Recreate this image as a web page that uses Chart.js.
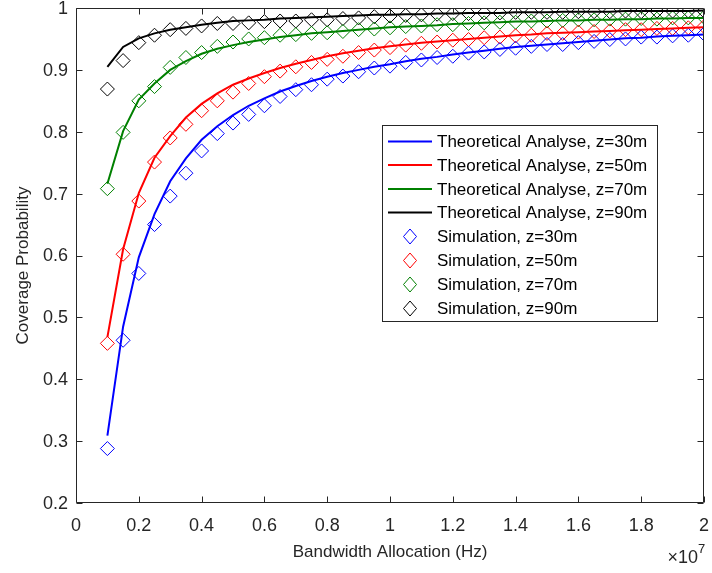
<!DOCTYPE html>
<html>
<head>
<meta charset="utf-8">
<script src="https://cdn.jsdelivr.net/npm/chart.js@4.4.1/dist/chart.umd.min.js"></script>
<style>
  html, body { margin: 0; padding: 0; background: #ffffff; }
  #wrap { position: relative; width: 712px; height: 573px; }
</style>
</head>
<body>
<div id="wrap"><canvas id="c" width="712" height="573"></canvas></div>
<script>
// ---- Data (bandwidth in Hz) ----
const bandwidthHz = [
  1.0e6, 1.5e6, 2.0e6, 2.5e6, 3.0e6, 3.5e6, 4.0e6, 4.5e6, 5.0e6, 5.5e6,
  6.0e6, 6.5e6, 7.0e6, 7.5e6, 8.0e6, 8.5e6, 9.0e6, 9.5e6, 1.0e7, 1.05e7,
  1.1e7, 1.15e7, 1.2e7, 1.25e7, 1.3e7, 1.35e7, 1.4e7, 1.45e7, 1.5e7, 1.55e7,
  1.6e7, 1.65e7, 1.7e7, 1.75e7, 1.8e7, 1.85e7, 1.9e7, 1.95e7, 2.0e7
];

const theory30 = [.309,.485,.597,.667,.720,.757,.787,.809,.827,.842,.854,.865,.874,.882,.889,.895,.900,.905,.909,.914,.918,.921,.925,.928,.931,.934,.937,.939,.941,.943,.945,.947,.949,.951,.952,.954,.955,.956,.957];
const theory50 = [.468,.610,.701,.758,.793,.823,.845,.862,.876,.886,.895,.903,.910,.916,.922,.927,.931,.935,.938,.941,.944,.946,.948,.950,.952,.954,.956,.957,.959,.960,.961,.962,.963,.964,.965,.966,.967,.968,.969];
const theory70 = [.716,.801,.852,.878,.900,.914,.926,.934,.940,.945,.949,.953,.956,.959,.961,.963,.965,.967,.969,.970,.971,.972,.974,.975,.976,.977,.978,.978,.979,.980,.980,.981,.981,.982,.982,.983,.983,.984,.984];
const theory90 = [.905,.937,.951,.959,.965,.969,.973,.976,.979,.980,.981,.983,.984,.985,.986,.987,.988,.989,.989,.990,.990,.991,.991,.992,.992,.992,.993,.993,.993,.994,.994,.994,.994,.995,.995,.995,.995,.995,.996];

const sim30 = [.288,.463,.571,.650,.696,.733,.769,.797,.814,.828,.842,.857,.868,.876,.885,.890,.897,.903,.906,.912,.916,.920,.922,.927,.929,.933,.935,.938,.941,.941,.944,.946,.949,.950,.953,.953,.955,.956,.958];
const sim50 = [.458,.602,.688,.751,.790,.812,.834,.850,.864,.878,.889,.898,.905,.912,.917,.922,.928,.932,.936,.940,.943,.945,.948,.949,.952,.953,.955,.956,.959,.959,.961,.962,.963,.965,.965,.967,.967,.968,.970];
const sim70 = [.708,.799,.850,.873,.904,.920,.928,.938,.945,.950,.952,.956,.957,.959,.960,.962,.965,.966,.968,.970,.971,.973,.973,.975,.976,.977,.977,.979,.979,.980,.981,.981,.982,.982,.983,.982,.984,.984,.985];
const sim90 = [.869,.915,.944,.956,.965,.967,.971,.975,.975,.976,.978,.979,.979,.981,.981,.983,.984,.986,.987,.988,.989,.990,.991,.991,.992,.992,.993,.993,.993,.993,.994,.994,.994,.995,.994,.995,.995,.995,.995];

const seriesLabels = [
  'Theoretical Analyse, z=30m','Theoretical Analyse, z=50m','Theoretical Analyse, z=70m','Theoretical Analyse, z=90m',
  'Simulation, z=30m','Simulation, z=50m','Simulation, z=70m','Simulation, z=90m'
];
const xTickLabels = ['0','0.2','0.4','0.6','0.8','1','1.2','1.4','1.6','1.8','2'];
const yTickLabels = ['0.2','0.3','0.4','0.5','0.6','0.7','0.8','0.9','1'];
const xTitle = 'Bandwidth Allocation (Hz)';
const yTitle = 'Coverage Probability';

const colors = ['#0000ff', '#ff0000', '#008000', '#000000'];
const AXIS = '#262626';
const FONT = '"Liberation Sans", Arial, Helvetica, sans-serif';

function pts(ys) { return ys.map((y, i) => ({ x: bandwidthHz[i], y: y })); }

const theories = [theory30, theory50, theory70, theory90];
const sims = [sim30, sim50, sim70, sim90];
const datasets = [];
theories.forEach((t, i) => datasets.push({
  label: seriesLabels[i], data: pts(t), borderColor: colors[i], backgroundColor: colors[i],
  borderWidth: 2, pointRadius: 0, tension: 0, showLine: true, kind: 'line'
}));
sims.forEach((s, i) => datasets.push({
  label: seriesLabels[4 + i], data: pts(s), borderColor: colors[i], backgroundColor: 'rgba(0,0,0,0)',
  borderWidth: 1, pointStyle: 'rectRot', pointRadius: 7, pointBorderWidth: 1, showLine: false, kind: 'marker'
}));

const framePlugin = {
  id: 'frame',
  afterDraw(chart) {
    const ctx = chart.ctx, a = chart.chartArea, xs = chart.scales.x, ys = chart.scales.y;
    ctx.save();
    ctx.strokeStyle = AXIS; ctx.lineWidth = 1;
    const L = Math.round(a.left) + 0.5, R = Math.round(a.right) - 0.5;
    const T = Math.round(a.top) + 0.5, B = Math.round(a.bottom) - 0.5;
    ctx.beginPath(); ctx.rect(L, T, R - L, B - T); ctx.stroke();
    const tl = 6;
    ctx.beginPath();
    xs.ticks.forEach(t => {
      const px = Math.round(xs.getPixelForValue(t.value)) + 0.5;
      ctx.moveTo(px, B); ctx.lineTo(px, B - tl);
      ctx.moveTo(px, T); ctx.lineTo(px, T + tl);
    });
    ys.ticks.forEach(t => {
      const py = Math.round(ys.getPixelForValue(t.value)) + 0.5;
      ctx.moveTo(L, py); ctx.lineTo(L + tl, py);
      ctx.moveTo(R, py); ctx.lineTo(R - tl, py);
    });
    ctx.stroke();

    // Tick labels
    ctx.fillStyle = AXIS;
    ctx.font = '18px ' + FONT;
    ctx.textAlign = 'center'; ctx.textBaseline = 'middle';
    xs.ticks.forEach((t, i) => {
      ctx.fillText(xTickLabels[i], xs.getPixelForValue(t.value), a.bottom + 23);
    });
    ctx.textAlign = 'right';
    ys.ticks.forEach((t, i) => {
      ctx.fillText(yTickLabels[i], a.left - 8, ys.getPixelForValue(t.value) + 1);
    });

    // Axis titles
    ctx.font = '17px ' + FONT;
    ctx.textAlign = 'center'; ctx.textBaseline = 'middle';
    ctx.fillText(xTitle, (a.left + a.right) / 2, 552);
    ctx.save();
    ctx.translate(23, (a.top + a.bottom) / 2 + 10);
    ctx.rotate(-Math.PI / 2);
    ctx.fillText(yTitle, 0, 0);
    ctx.restore();

    // exponent
    ctx.textAlign = 'right'; ctx.textBaseline = 'alphabetic';
    ctx.font = '18px ' + FONT;
    ctx.fillText('\u00d710', 698, 563);
    ctx.font = '13px ' + FONT;
    ctx.textAlign = 'left';
    ctx.fillText('7', 698, 553);

    // Legend
    const lx = 382.5, ly = 125.5, lw = 275, lh = 196;
    ctx.fillStyle = '#ffffff';
    ctx.fillRect(lx, ly, lw, lh);
    ctx.strokeStyle = AXIS; ctx.lineWidth = 1;
    ctx.strokeRect(lx, ly, lw, lh);
    const rowY = [141.5, 165, 189, 212.5, 236.5, 260.5, 284.5, 308.5];
    ctx.font = '17px ' + FONT;
    ctx.textAlign = 'left'; ctx.textBaseline = 'middle';
    chart.data.datasets.forEach((ds, i) => {
      const y = rowY[i];
      if (ds.kind === 'line') {
        ctx.strokeStyle = ds.borderColor; ctx.lineWidth = 2;
        ctx.beginPath(); ctx.moveTo(388, y); ctx.lineTo(432, y); ctx.stroke();
      } else {
        ctx.strokeStyle = ds.borderColor; ctx.lineWidth = 1;
        const cx = 410, r = 7;
        ctx.beginPath();
        ctx.moveTo(cx - r + 0.5, y); ctx.lineTo(cx, y - r - 0.5); ctx.lineTo(cx + r - 0.5, y); ctx.lineTo(cx, y + r + 0.5);
        ctx.closePath(); ctx.stroke();
      }
      ctx.fillStyle = '#000000';
      ctx.fillText(ds.label, 437, y + 1);
    });
    ctx.restore();
  }
};

new Chart(document.getElementById('c'), {
  type: 'scatter',
  data: { datasets: datasets },
  options: {
    responsive: false,
    animation: false,
    devicePixelRatio: 1,
    layout: { padding: { top: 6, right: 5, left: 0, bottom: 0 } },
    plugins: { legend: { display: false }, tooltip: { enabled: false } },
    scales: {
      x: {
        type: 'linear', min: 0, max: 2e7,
        afterFit(s) { s.height = 70; },
        afterBuildTicks(s) { s.ticks = xTickLabels.map(l => ({ value: parseFloat(l) * 1e7 })); },
        grid: { display: false, drawTicks: false },
        border: { display: false },
        ticks: { display: false }
      },
      y: {
        type: 'linear', min: 0.2, max: 1,
        afterFit(s) { s.width = 76; },
        afterBuildTicks(s) { s.ticks = yTickLabels.map(l => ({ value: parseFloat(l) })); },
        grid: { display: false, drawTicks: false },
        border: { display: false },
        ticks: { display: false }
      }
    }
  },
  plugins: [framePlugin]
});
</script>
</body>
</html>
